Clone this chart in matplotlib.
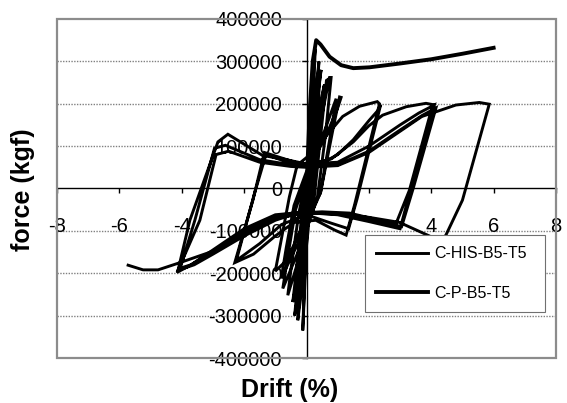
import matplotlib
matplotlib.use("Agg")
import matplotlib.pyplot as plt
from matplotlib.patches import Rectangle

plt.rcParams['font.family'] = ['Liberation Sans', 'DejaVu Sans']
plt.rcParams['axes.unicode_minus'] = False

# ---- data: drift (%) and force (kgf) ----
# C-HIS-B5-T5 : small early cycles
his_small_drift = [0, 0.12, 0.22, 0.28, 0.24, 0.12, 0.03, -0.05, -0.12,
                   -0.08, 0.0, 0.10, 0.25, 0.40, 0.34, 0.20, 0.05, -0.12, -0.28,
                   -0.20, -0.05, 0.10, 0.30, 0.47, 0.44, 0.32, 0.15, -0.05, -0.20, -0.38,
                   -0.28, -0.10, 0.05, 0.30, 0.58, 0.55, 0.40, 0.20, -0.10, -0.44,
                   -0.32, -0.15, 0.05, 0.35, 0.68, 0.64, 0.45, 0.25, -0.10, -0.60,
                   -0.48, -0.25, 0.0, 0.40, 0.74, 0.79, 0.60, 0.35, -0.10, -0.76,
                   -0.60, -0.35, 0.0, 0.50, 0.95, 0.80, 0.45, -0.15, -0.81,
                   -0.65, -0.40, 0.0, 0.60, 1.00, 1.11, 1.06, 0.85, 0.45, -0.20, -0.63, -1.00]
his_small_force = [0, 150000, 280000, 330000, 250000, 80000, -80000, -220000, -335000,
                   -250000, -100000, 60000, 200000, 300000, 230000, 60000, -100000, -220000, -311000,
                   -230000, -80000, 60000, 190000, 280000, 270000, 150000, 0, -120000, -220000, -300000,
                   -220000, -70000, 40000, 160000, 245000, 240000, 130000, -20000, -140000, -268000,
                   -190000, -60000, 40000, 150000, 257000, 255000, 120000, -20000, -130000, -252000,
                   -180000, -60000, 30000, 140000, 262000, 262000, 120000, -20000, -120000, -236000,
                   -160000, -50000, 30000, 120000, 212000, 140000, -10000, -110000, -212000,
                   -140000, -40000, 40000, 120000, 190000, 215000, 216000, 140000, -10000, -100000, -169000, -195000]

# C-HIS-B5-T5 : cycles to about +/-2.3 %
his_2pct_drift = [-0.55, -0.30, 0.20, 0.70, 1.16, 1.70, 2.27, 2.34,
                  1.54, 1.27, 0.90, 0.30, -0.40, -1.00, -1.70, -2.30,
                  -1.72, -1.35, -0.80, -0.20,
                  0.50, 1.00, 1.50, 2.00, 2.30, 2.38,
                  1.62, 1.35, 0.80, 0.0, -0.80, -1.50, -2.25,
                  -1.68, -1.30, -0.60, 0.0]
his_2pct_force = [-20000, 55000, 85000, 130000, 170000, 194000, 205000, 200000,
                  -39000, -110000, -98000, -75000, -80000, -112000, -155000, -175000,
                  -28000, 85000, 72000, 58000,
                  60000, 80000, 115000, 160000, 185000, 198000,
                  -25000, -95000, -82000, -62000, -85000, -130000, -170000,
                  -15000, 80000, 62000, 55000]

# C-HIS-B5-T5 : three cycles to about +/-4 %
his_4pct_drift = [0.80, 1.50, 2.00, 2.44, 3.20, 3.83, 4.05,
                  3.30, 2.87, 2.34, 1.38, 0.50, -0.30, -1.00, -2.00, -3.00, -3.60, -4.12,
                  -3.74, -2.84, -2.52, -1.41, -0.65, 0.0,
                  1.00, 2.00, 3.00, 3.60, 4.10,
                  3.35, 3.00, 2.00, 1.00, 0.0, -1.00, -2.00, -3.00, -3.70, -4.05,
                  -3.58, -2.95, -2.60, -1.50, -0.50, 0.0,
                  1.00, 2.00, 3.00, 3.70, 4.15,
                  3.42, 3.05, 2.00, 1.00, 0.0, -1.00, -2.00, -3.00, -3.70, -4.15,
                  -3.42, -2.90, -2.50, -1.50, -0.50, 0.0]
his_4pct_force = [70000, 110000, 148000, 173000, 193000, 201000, 198000,
                  -4000, -83000, -75000, -58000, -55000, -58000, -75000, -112000, -155000, -180000, -193000,
                  -75000, 110000, 128000, 78000, 68000, 58000,
                  62000, 100000, 150000, 178000, 197000,
                  0, -95000, -78000, -62000, -57000, -66000, -102000, -150000, -180000, -188000,
                  -75000, 95000, 102000, 68000, 56000, 53000,
                  56000, 88000, 138000, 172000, 190000,
                  0, -90000, -72000, -60000, -55000, -62000, -95000, -145000, -180000, -198000,
                  -75000, 80000, 88000, 62000, 52000, 50000]

# C-HIS-B5-T5 : last cycle to about +/-6 %
his_6pct_drift = [1.00, 2.00, 3.00, 3.70, 4.15, 4.79, 5.54, 5.86,
                  5.00, 4.47, 4.30, 3.94, 2.98, 2.00, 1.00, 0.0, -1.00, -2.00, -3.00,
                  -4.10, -4.76, -5.24, -5.72]
his_6pct_force = [54000, 85000, 135000, 170000, 181000, 197000, 203000, 199000,
                  -27600, -110000, -125000, -112000, -80000, -68000, -60000, -58000, -70000, -105000, -148000,
                  -176000, -192000, -192000, -181000]

# C-P-B5-T5
cp_drift = [0, 0.10, 0.20, 0.31, 0.45, 0.74, 1.11, 1.50, 2.02, 3.00, 4.00, 5.00, 6.00]
cp_force = [0, 180000, 300000, 350000, 340000, 311000, 291000, 284000, 286000, 295000, 305000, 318000, 332000]

series_names = ['C-HIS-B5-T5', 'C-P-B5-T5']
x_ticks = [-8, -6, -4, -2, 0, 2, 4, 6, 8]
x_tick_labels = ['-8', '-6', '-4', '', '', '', '4', '6', '8']
y_ticks = [-400000, -300000, -200000, -100000, 0, 100000, 200000, 300000, 400000]
y_tick_labels = ['-400000', '-300000', '-200000', '-100000', '0',
                 '100000', '200000', '300000', '400000']

his_drift = his_small_drift + his_2pct_drift + his_4pct_drift + his_6pct_drift
his_force = his_small_force + his_2pct_force + his_4pct_force + his_6pct_force

# ---- figure ----
W, H = 567, 403
fig = plt.figure(figsize=(W / 100, H / 100), dpi=100)
ax = fig.add_axes([57 / W, 1 - 358 / H, 499 / W, 339 / H])

ax.plot(his_drift, his_force, color='black', lw=2.1, solid_joinstyle='miter',
        label=series_names[0], zorder=3)
ax.plot(cp_drift, cp_force, color='black', lw=2.8, label=series_names[1], zorder=3)

ax.set_xlim(-8, 8)
ax.set_ylim(-400000, 400000)

# horizontal dotted gridlines
for yv in y_ticks:
    if yv not in (0, 400000, -400000):
        ax.axhline(yv, color='#808080', lw=1.0, ls=(0, (1, 1)), zorder=1)

# axes crossing at the origin
for side in ('top', 'right'):
    ax.spines[side].set_visible(False)
ax.spines['left'].set_position(('data', 0))
ax.spines['bottom'].set_position(('data', 0))
ax.spines['left'].set_linewidth(1.0)
ax.spines['bottom'].set_linewidth(1.0)

ax.set_xticks(x_ticks)
ax.set_xticklabels(x_tick_labels)
ax.set_yticks(y_ticks)
ax.set_yticklabels(y_tick_labels)
ax.tick_params(axis='x', direction='out', length=3.6, width=1.0, pad=17, labelsize=14.5)
ax.tick_params(axis='y', direction='out', length=3.6, width=1.0, pad=14, labelsize=14.5)

# plot area border
ax.add_patch(Rectangle((0, 0), 1, 1, transform=ax.transAxes, fill=False,
                       edgecolor='#8c8c8c', lw=1.6, clip_on=False, zorder=5))

leg = ax.legend(loc='upper left', bbox_to_anchor=(0.617, 0.121, 0.361, 0.242),
                mode='expand', fontsize=11.5, frameon=True, fancybox=False,
                edgecolor='#707070', framealpha=1.0, borderpad=0.7,
                labelspacing=1.55, handlelength=3.25, handletextpad=0.4,
                borderaxespad=0.0)
leg.get_frame().set_linewidth(0.8)
leg.set_zorder(6)

fig.text(23 / W, 1 - 190 / H, 'force (kgf)', rotation=90, ha='center', va='center',
         fontsize=18, fontweight='bold')
fig.text(290 / W, 1 - 390 / H, 'Drift (%)', ha='center', va='center',
         fontsize=18, fontweight='bold')

fig.savefig('out.png', dpi=100)
